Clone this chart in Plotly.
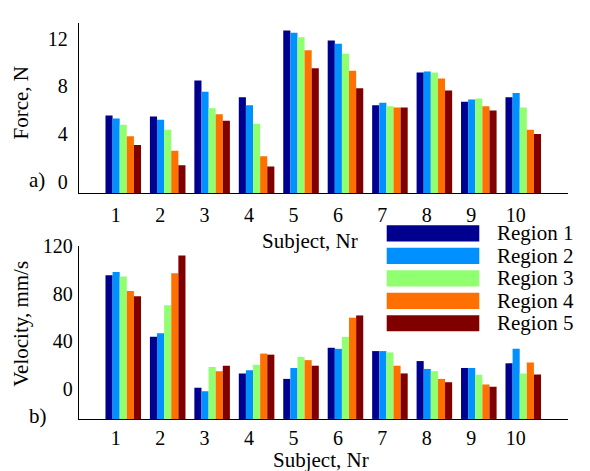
import plotly.graph_objects as go

# ---------------- data ----------------
subjects = [1, 2, 3, 4, 5, 6, 7, 8, 9, 10]
subject_labels = ["1", "2", "3", "4", "5", "6", "7", "8", "9", "10"]
regions = ["Region 1", "Region 2", "Region 3", "Region 4", "Region 5"]

force_r1 = [5.57, 5.48, 8.50, 7.09, 12.69, 11.85, 6.43, 9.16, 6.71, 7.09]
force_r2 = [5.32, 5.21, 7.55, 6.43, 12.50, 11.58, 6.63, 9.24, 6.90, 7.44]
force_r3 = [4.78, 4.37, 6.16, 4.86, 12.12, 10.73, 6.33, 9.16, 6.98, 6.24]
force_r4 = [3.82, 2.60, 5.67, 2.14, 11.03, 9.32, 6.24, 8.67, 6.33, 4.37]
force_r5 = [3.09, 1.40, 5.13, 1.29, 9.51, 7.85, 6.24, 7.66, 5.97, 4.02]

vel_r1 = [95.4, 43.6, 0.8, 12.8, 8.2, 34.4, 31.6, 23.2, 17.4, 21.3]
vel_r2 = [98.2, 46.6, -2.2, 15.5, 17.4, 33.5, 31.6, 16.6, 17.4, 33.5]
vel_r3 = [94.4, 70.1, 18.2, 20.1, 26.7, 43.6, 30.5, 14.7, 11.7, 12.8]
vel_r4 = [82.1, 97.1, 14.7, 29.5, 24.0, 59.7, 19.3, 8.2, 3.5, 22.1]
vel_r5 = [77.7, 112.1, 19.3, 28.6, 19.3, 61.6, 12.8, 5.4, 1.6, 12.0]

force_ticks = [0, 4, 8, 12]
vel_ticks = [0, 40, 80, 120]

# ---------------- style ----------------
colors = ["#00008F", "#0090FF", "#90FF70", "#FF7000", "#800000"]
FONT = "'Liberation Serif', 'Times New Roman', Times, serif"
W, H = 590, 471
FORCE_RANGE = [-0.96, 13.31]
VEL_RANGE = [-25.5, 120.3]
X_RANGE = [0, 11]
TICK_SHIFT = -0.17


def px(x):
    return x / W


def py(y):
    return 1 - y / H


force = [force_r1, force_r2, force_r3, force_r4, force_r5]
vel = [vel_r1, vel_r2, vel_r3, vel_r4, vel_r5]

fig = go.Figure()
for i, name in enumerate(regions):
    fig.add_trace(go.Bar(
        x=subjects, y=[v - FORCE_RANGE[0] for v in force[i]], base=FORCE_RANGE[0],
        customdata=force[i], hovertemplate="%{customdata}<extra>" + name + "</extra>",
        name=name, marker=dict(color=colors[i], line=dict(width=0)),
        xaxis="x", yaxis="y", showlegend=False, offsetgroup=str(i)))
    fig.add_trace(go.Bar(
        x=subjects, y=[v - VEL_RANGE[0] for v in vel[i]], base=VEL_RANGE[0],
        customdata=vel[i], hovertemplate="%{customdata}<extra>" + name + "</extra>",
        name=name, marker=dict(color=colors[i], line=dict(width=0)),
        xaxis="x2", yaxis="y2", showlegend=False, offsetgroup=str(i)))

x_dom = [px(78.8), px(567.7)]
axis_common = dict(showgrid=False, zeroline=False, showline=True, linecolor="black",
                   linewidth=1.3, ticks="", tickfont=dict(family=FONT, size=20, color="black"))

fig.update_layout(
    width=W, height=H,
    margin=dict(l=0, r=0, t=0, b=0),
    paper_bgcolor="white", plot_bgcolor="white",
    barmode="group", bargap=0.2, bargroupgap=0,
    showlegend=False,
    font=dict(family=FONT, color="black"),
    xaxis=dict(domain=x_dom, anchor="y", range=X_RANGE,
               tickvals=[s + TICK_SHIFT for s in subjects], ticktext=subject_labels,
               ticklabelstandoff=4, **axis_common),
    yaxis=dict(domain=[py(186.7), py(12.3)], anchor="x", range=FORCE_RANGE,
               tickvals=force_ticks, ticktext=[str(t) for t in force_ticks],
               ticklabelstandoff=6, **axis_common),
    xaxis2=dict(domain=x_dom, anchor="y2", range=X_RANGE,
                tickvals=[s + TICK_SHIFT for s in subjects], ticktext=subject_labels,
                ticklabelstandoff=1, **axis_common),
    yaxis2=dict(domain=[py(417.7), py(240.3)], anchor="x2", range=VEL_RANGE,
                tickvals=vel_ticks, ticktext=[str(t) for t in vel_ticks],
                ticklabelstandoff=1, **axis_common),
)

tfont = dict(family=FONT, size=21, color="black")
annots = [
    dict(text="Force, N", x=px(20.7), y=py(94), textangle=-90),
    dict(text="Velocity, mm/s", x=px(20.7), y=py(320.5), textangle=-90),
    dict(text="Subject, Nr", x=px(310), y=py(235)),
    dict(text="Subject, Nr", x=px(320.5), y=py(460)),
    dict(text="a)", x=px(37.3), y=py(173.3)),
    dict(text="b)", x=px(38.3), y=py(415)),
]
for a in annots:
    fig.add_annotation(xref="paper", yref="paper", showarrow=False,
                       xanchor="center", yanchor="middle", font=tfont, **a)

# custom legend (wide colour boxes)
LEG_X0, LEG_X1, LEG_Y0, LEG_STEP, LEG_H = 386.7, 479.3, 219.5, 23.0, 16.5
for i, name in enumerate(regions):
    y0 = LEG_Y0 + i * LEG_STEP
    fig.add_shape(type="rect", xref="paper", yref="paper",
                  x0=px(LEG_X0), x1=px(LEG_X1), y0=py(y0), y1=py(y0 + LEG_H),
                  fillcolor=colors[i], line=dict(width=0), layer="above")
    fig.add_annotation(xref="paper", yref="paper", showarrow=False,
                       text=name, x=px(495), y=py(y0 + LEG_H / 2),
                       xanchor="left", yanchor="middle", font=tfont)

fig.write_html("out.html", config={"displayModeBar": False},
               post_script="document.body.style.margin='0px';document.body.style.overflow='hidden';")
